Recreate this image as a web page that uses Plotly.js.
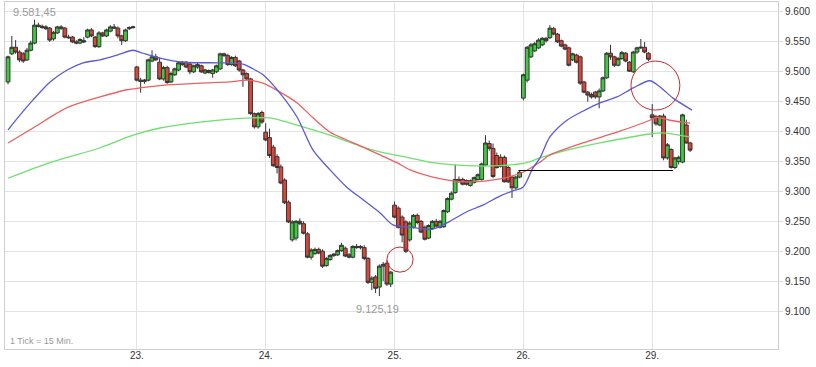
<!DOCTYPE html>
<html><head><meta charset="utf-8">
<script src="https://cdn.plot.ly/plotly-3.0.1.min.js"></script>
<style>html,body{margin:0;padding:0;background:#fff}#chart{width:816px;height:367px}</style>
</head><body><div id="chart"></div>
<script>
// 15-minute candles, bar index 0..180 (22nd to 29th)
const open = [
9483,9530,9541,9533,9530,9520,9536,9548,9578,9576,9575,9573,9555,9565,9575,9573,9558,9558,9550,9548,9552,9558,9570,9558,9542,9565,9560,9568,9575,9573,9560,9552,9572,9574,
9508,9486,9484,9486,9518,9525,9516,9488,9507,9483,9495,9503,9512,9516,9513,9500,9508,9510,9498,9502,9497,9500,9505,9530,9527,9512,9524,9518,9503,9497,9488,9430,9408,9432,
9399,9390,9374,9358,9341,9319,9282,9219,9222,9250,9246,9229,9190,9196,9203,9200,9176,9186,9193,9194,9201,9205,9194,9190,9208,9206,9206,9188,9148,9157,9140,9175,9180,9145,
9277,9272,9257,9249,9219,9240,9260,9250,9240,9222,9238,9250,9240,9241,9266,9287,9298,9320,9320,9318,9310,9315,9320,9320,9344,9380,9372,9360,9357,9357,9340,9324,9306,9324,
9456,9486,9525,9535,9540,9545,9556,9557,9572,9563,9552,9545,9540,9520,9528,9525,9483,9466,9462,9466,9458,9468,9490,9531,9525,9511,9522,9531,9516,9500,9533,9540,9541,9531,
9428,9425,9411,9426,9356,9370,9340,9350,9349,9411,9381];
const high = [
9527,9560,9553,9536,9533,9540,9552,9587,9582,9579,9578,9575,9568,9577,9578,9575,9562,9560,9553,9556,9558,9572,9573,9560,9568,9567,9572,9578,9580,9576,9562,9572,9576,9577,
9510,9490,9488,9522,9536,9530,9524,9510,9510,9500,9507,9517,9518,9518,9515,9512,9515,9512,9505,9504,9505,9512,9532,9532,9530,9526,9527,9520,9505,9499,9490,9432,9433,9435,
9414,9405,9378,9362,9345,9322,9285,9252,9252,9255,9250,9232,9205,9206,9206,9203,9190,9195,9197,9203,9214,9208,9197,9210,9212,9210,9210,9190,9158,9160,9178,9182,9185,9167,
9283,9275,9260,9252,9250,9262,9263,9252,9243,9245,9252,9254,9252,9270,9290,9300,9345,9325,9323,9320,9320,9325,9330,9348,9394,9385,9380,9365,9362,9360,9343,9326,9326,9335,
9497,9543,9548,9550,9556,9558,9558,9578,9575,9565,9554,9547,9542,9532,9530,9527,9485,9468,9465,9468,9472,9492,9533,9545,9527,9525,9535,9533,9518,9535,9542,9555,9550,9533,
9446,9428,9428,9430,9381,9372,9358,9360,9430,9420,9383];
const low = [
9479,9528,9530,9516,9515,9518,9534,9546,9574,9572,9570,9550,9552,9563,9570,9556,9555,9548,9546,9546,9548,9556,9558,9540,9540,9558,9558,9566,9572,9556,9545,9550,9570,9572,
9484,9465,9480,9484,9516,9518,9486,9485,9480,9481,9493,9501,9510,9506,9496,9498,9505,9498,9496,9497,9490,9498,9503,9525,9510,9510,9508,9500,9475,9486,9428,9405,9405,9413,
9384,9356,9341,9330,9312,9279,9247,9216,9218,9244,9228,9188,9186,9194,9195,9172,9174,9184,9190,9192,9199,9190,9188,9188,9204,9203,9185,9145,9135,9130,9125,9150,9142,9140,
9255,9238,9215,9197,9216,9238,9245,9230,9218,9220,9236,9240,9238,9239,9264,9285,9296,9314,9310,9310,9308,9313,9318,9318,9342,9368,9322,9338,9340,9315,9314,9289,9303,9322,
9452,9482,9523,9533,9538,9543,9549,9555,9561,9548,9541,9536,9509,9518,9514,9478,9464,9450,9455,9455,9439,9466,9488,9520,9508,9509,9520,9516,9500,9498,9530,9538,9531,9518,
9391,9410,9409,9352,9353,9338,9337,9345,9347,9380,9366];
const close = [
9525,9541,9533,9520,9518,9536,9548,9578,9576,9574,9572,9553,9566,9575,9573,9558,9557,9550,9548,9554,9550,9570,9560,9542,9565,9560,9570,9575,9573,9560,9552,9570,9574,9575,
9486,9484,9486,9520,9525,9520,9488,9507,9482,9497,9505,9515,9516,9508,9500,9510,9512,9500,9503,9499,9503,9510,9530,9527,9512,9524,9510,9503,9495,9488,9430,9408,9430,9416,
9386,9360,9343,9340,9314,9281,9249,9249,9250,9246,9230,9190,9202,9203,9197,9175,9188,9193,9195,9201,9210,9192,9190,9208,9206,9208,9188,9148,9155,9138,9175,9178,9145,9165,
9257,9240,9227,9200,9247,9260,9248,9232,9220,9243,9250,9242,9250,9268,9288,9297,9320,9318,9312,9312,9318,9323,9328,9346,9381,9372,9325,9340,9342,9316,9316,9306,9324,9332,
9495,9541,9545,9547,9553,9556,9552,9573,9563,9550,9543,9538,9511,9530,9516,9481,9466,9461,9458,9458,9468,9490,9531,9525,9511,9522,9532,9518,9501,9533,9540,9541,9533,9521,
9423,9413,9426,9356,9378,9340,9356,9357,9428,9381,9369];
const barIndex = open.map((_, i) => i);

// day tick labels (first bar of each day)
const dayTickBars = [34, 68, 102, 136, 170];
const dayTickLabels = ['23.', '24.', '25.', '26.', '29.'];
const priceTicks = [9100, 9150, 9200, 9250, 9300, 9350, 9400, 9450, 9500, 9550, 9600];

// moving averages (bar index, value)
const blueX = [0,3.2,6.6,11.1,15.6,19.8,24.3,28.8,33,35.6,40.1,46.2,55.9,62,64.6,67.3,71.8,76.3,80.5,85,89.4,93.7,98.2,101.6,106.1,112.1,116.6,121.1,125.3,129.8,133.2,135.9,138.5,140.4,143,147.5,151.7,156.2,160.7,165,169.4,172,175.5,180.5];
const blueY = [9403,9428,9453,9483,9503,9515,9520,9528,9536,9531,9523,9516,9515,9513,9505,9495,9464,9424,9369,9336,9307,9286,9264,9244,9240,9237,9250,9266,9277,9292,9301,9307,9339,9356,9391,9419,9434,9448,9458,9473,9485,9475,9456,9436];
const redX = [0,6.6,15.6,24.3,31.4,34.8,42,50.7,58.6,63.1,67.3,71.8,76.3,80.5,85,89.4,93.7,98.2,102.6,106.1,112.1,121.1,129.8,135.9,140.4,143,151.7,160.7,169.4,171.2,174.7,180];
const redY = [9381,9406,9440,9458,9470,9473,9478,9481,9483,9486,9481,9466,9448,9423,9399,9386,9374,9361,9348,9336,9324,9316,9321,9332,9349,9361,9381,9399,9419,9424,9419,9414];
const greenX = [0,11.1,24.3,33,40.1,50.7,64.6,69.1,76.3,85,93.7,98.2,106.1,112.1,121.1,129.8,136.9,140.4,147.5,156.2,169.4,172.8,180];
const greenY = [9322,9348,9373,9394,9406,9416,9423,9423,9411,9394,9374,9366,9356,9348,9343,9343,9348,9356,9369,9381,9396,9398,9391];

// markings
const extremeLabels = ['9.581,45', '9.125,19'];
const circleX0 = [100, 164.4], circleX1 = [106.9, 177.3];
const circleY0 = [9165, 9436], circleY1 = [9207, 9518];
const supportX = [134.7, 175.5], supportY = 9335;

const maLine = (x, y, color) => ({type:'scatter', mode:'lines', x, y, hoverinfo:'skip',
  line:{color, width:1.3, shape:'spline', smoothing:0.8}});

const traces = [
  maLine(greenX, greenY, '#6fe06f'),
  maLine(redX, redY, '#e86262'),
  maLine(blueX, blueY, '#5a5ad6'),
  {type:'candlestick', x:barIndex, open, high, low, close, whiskerwidth:0,
   increasing:{line:{color:'#333', width:1}, fillcolor:'#3ec93e'},
   decreasing:{line:{color:'#333', width:1}, fillcolor:'#d9453b'}}
];

const hi = high.indexOf(Math.max(...high));
const lo = low.indexOf(Math.min(...low));

const layout = {
  width:816, height:367, margin:{l:5, r:38, t:2, b:18},
  paper_bgcolor:'#fff', plot_bgcolor:'#fff', showlegend:false,
  separators:',.', boxgap:0, boxgroupgap:0,
  font:{family:'Liberation Sans, Arial, sans-serif', size:10, color:'#333'},
  xaxis:{type:'linear', range:[-0.8, 203.2], tickvals:dayTickBars, ticktext:dayTickLabels,
    showgrid:true, gridcolor:'#e3e3e3', zeroline:false, showline:true, mirror:true,
    linecolor:'#cfcfcf', ticks:'', rangeslider:{visible:false}, fixedrange:true,
    ticklabelstandoff:-3, tickfont:{size:10, color:'#333'}},
  yaxis:{side:'right', range:[9036.5, 9616.7], tickvals:priceTicks, tickformat:',.0f',
    showgrid:true, gridcolor:'#e3e3e3', zeroline:false, showline:true, mirror:true,
    linecolor:'#cfcfcf', ticks:'outside', ticklen:4, tickcolor:'#dcdcdc', fixedrange:true,
    tickfont:{size:10, color:'#333'}},
  shapes:[
    ...circleX0.map((x0, k) => ({type:'circle', xref:'x', yref:'y', x0, x1:circleX1[k],
      y0:circleY0[k], y1:circleY1[k], line:{color:'#c8282d', width:1}})),
    {type:'line', xref:'x', yref:'y', x0:supportX[0], x1:supportX[1], y0:supportY, y1:supportY,
     line:{color:'#000', width:1.2}}
  ],
  annotations:[
    {x:hi, y:high[hi], xref:'x', yref:'y', text:extremeLabels[0], showarrow:false,
     yanchor:'bottom', yshift:0, font:{size:11, color:'#9a9a9a'}},
    {x:lo, y:low[lo], xref:'x', yref:'y', text:extremeLabels[1], showarrow:false,
     yanchor:'top', yshift:-5, xshift:-2, font:{size:11, color:'#9a9a9a'}},
    {x:0, y:0, xref:'paper', yref:'paper', text:'1 Tick = 15 Min.', showarrow:false,
     xanchor:'left', yanchor:'bottom', xshift:3, yshift:1, font:{size:9, color:'#9a9a9a'}}
  ]
};

Plotly.newPlot('chart', traces, layout, {displayModeBar:false, staticPlot:true});
</script></body></html>
